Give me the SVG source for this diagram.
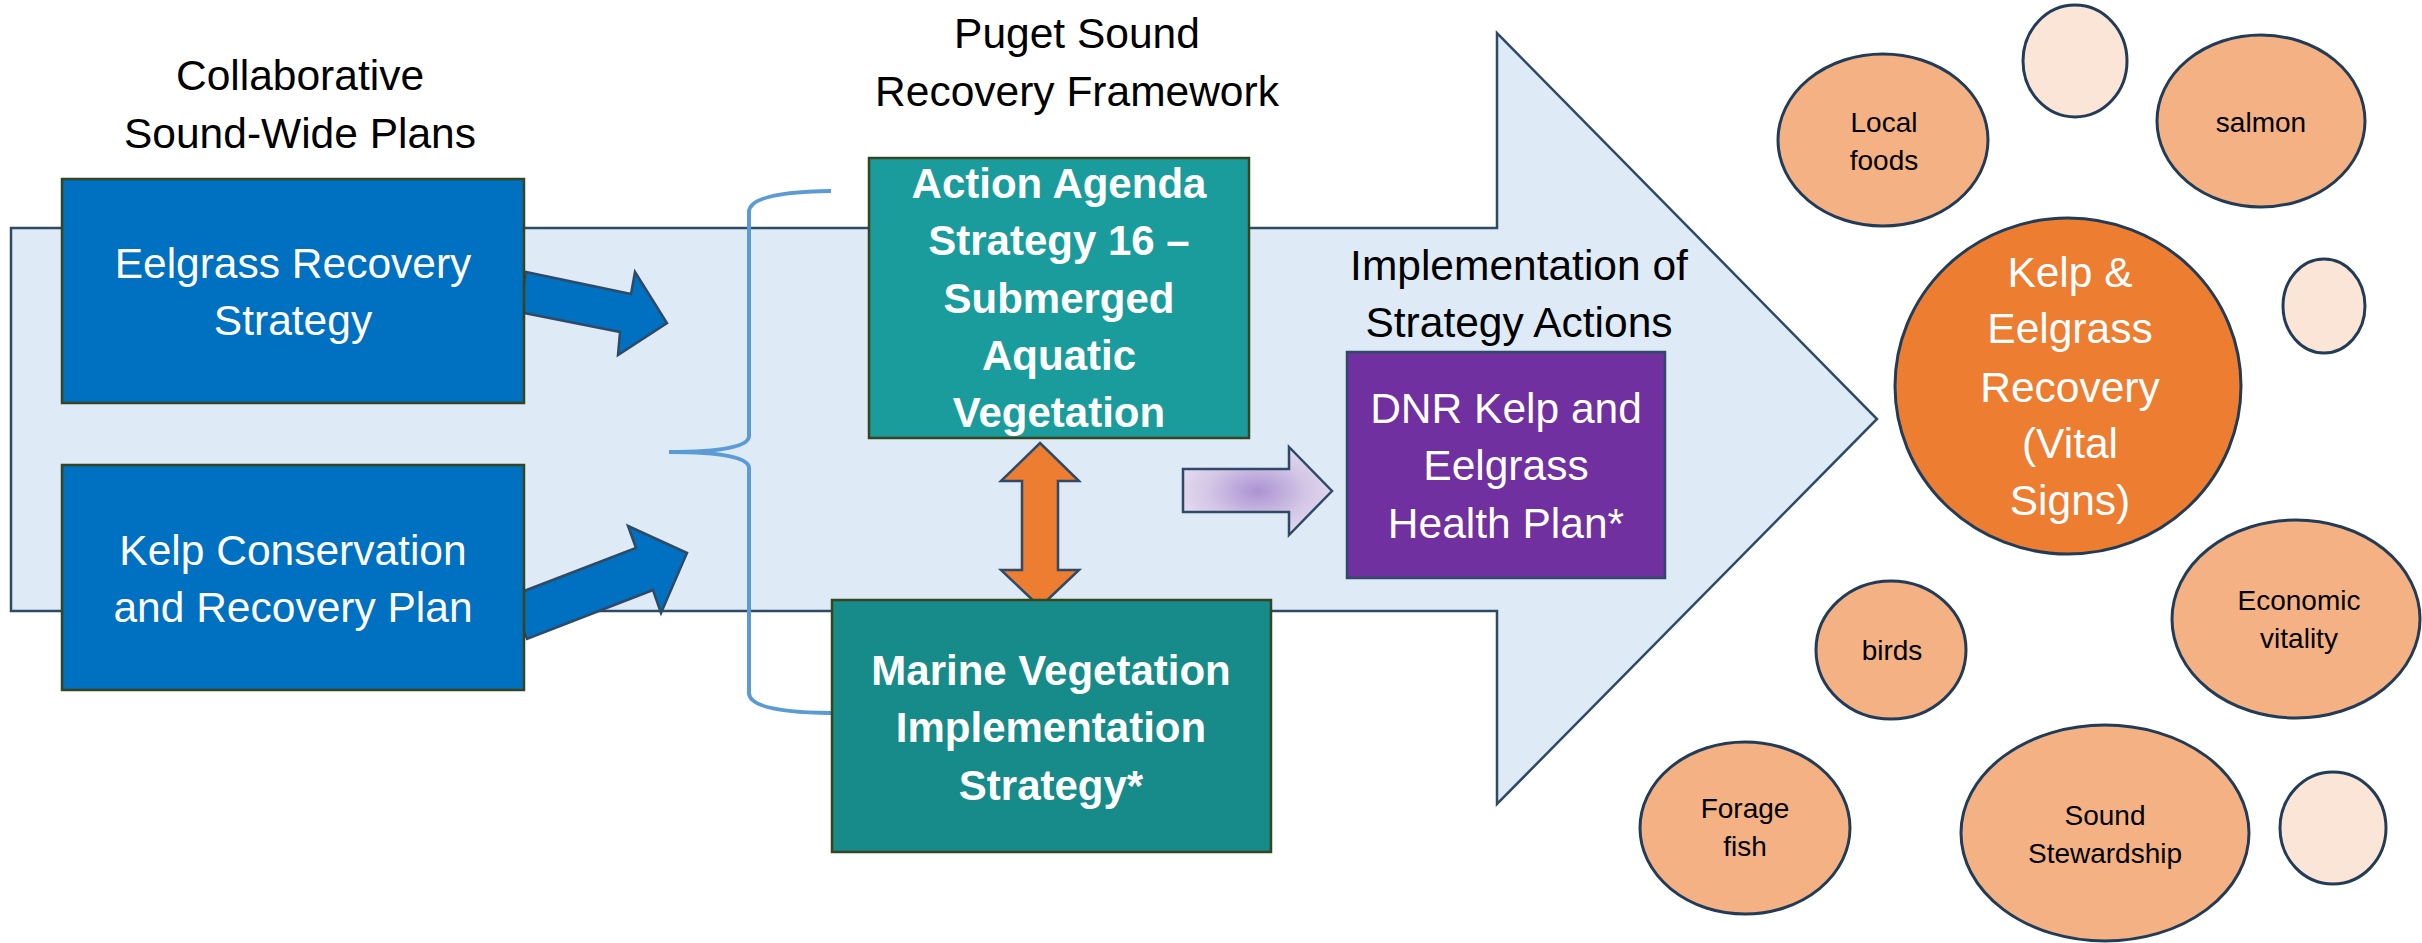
<svg xmlns="http://www.w3.org/2000/svg" width="2422" height="943" viewBox="0 0 2422 943">
<style>
.t{font-family:"Liberation Sans",Arial,sans-serif;font-size:42.5px;text-anchor:middle}
.blk{fill:#000}
.wht{fill:#fff}
.b{font-weight:bold;font-size:42px}
.s{font-family:"Liberation Sans",Arial,sans-serif;font-size:28px;text-anchor:middle;fill:#000}
.ol{stroke:#2E4A66;stroke-width:2.5}
.box{stroke:#34451F;stroke-width:2.5}
.c{fill:#F4B183;stroke:#223C58;stroke-width:3}
.p{fill:#FBE5D6;stroke:#223C58;stroke-width:3}
</style>
<defs>
<radialGradient id="pg" cx="0.5" cy="0.5" r="0.55">
<stop offset="0" stop-color="#AC92D2"/>
<stop offset="0.6" stop-color="#D3C6E6"/>
<stop offset="1" stop-color="#E4DCEF"/>
</radialGradient>
</defs>
<rect width="2422" height="943" fill="#fff"/>
<g id="big-arrow">
<polygon class="ol" fill="#DEEAF6" points="11,228 1497,228 1497,33 1877,419 1497,804 1497,611 11,611"/>
</g>
<g id="titles">
<text class="t blk" x="300" y="90">Collaborative</text>
<text class="t blk" x="300" y="148">Sound-Wide Plans</text>
<text class="t blk" x="1077" y="48">Puget Sound</text>
<text class="t blk" x="1077" y="106">Recovery Framework</text>
<text class="t blk" x="1519" y="280">Implementation of</text>
<text class="t blk" x="1519" y="337">Strategy Actions</text>
</g>
<g id="connectors">
<path d="M831,191 Q749,192 749,212 L749,436 Q749,452 669,452 Q749,452 749,468 L749,693 Q749,712 831,713" fill="none" stroke="#5B9BD5" stroke-width="4"/>
<polygon class="ol" fill="#0070C0" points="526,272 631,294 635,272 667,323 618,355 620,332 519,312"/>
<polygon class="ol" fill="#0070C0" points="511,596 636,548 628,526 687,553 661,613 653,590 527,639"/>
<polygon class="ol" fill="#ED7D31" points="1040,443 1079,481 1058,481 1058,570 1079,570 1040,607 1001,570 1022,570 1022,481 1001,481"/>
<polygon class="ol" fill="url(#pg)" points="1183,469 1289,469 1289,447 1332,491 1289,535 1289,512 1183,512"/>
</g>
<g id="eelgrass-strategy">
<rect class="box" x="62" y="179" width="462" height="224" fill="#0070C0"/>
<text class="t wht" x="293" y="278">Eelgrass Recovery</text>
<text class="t wht" x="293" y="335">Strategy</text>
</g>
<g id="kelp-plan">
<rect class="box" x="62" y="465" width="462" height="225" fill="#0070C0"/>
<text class="t wht" x="293" y="565">Kelp Conservation</text>
<text class="t wht" x="293" y="622">and Recovery Plan</text>
</g>
<g id="action-agenda">
<rect class="box" x="869" y="158" width="380" height="280" fill="#1B9C9C"/>
<text class="t wht b" x="1059" y="198">Action Agenda</text>
<text class="t wht b" x="1059" y="255">Strategy 16 –</text>
<text class="t wht b" x="1059" y="313">Submerged</text>
<text class="t wht b" x="1059" y="370">Aquatic</text>
<text class="t wht b" x="1059" y="427">Vegetation</text>
</g>
<g id="marine-vegetation">
<rect class="box" x="832" y="600" width="439" height="252" fill="#178A8A"/>
<text class="t wht b" x="1051" y="685">Marine Vegetation</text>
<text class="t wht b" x="1051" y="742">Implementation</text>
<text class="t wht b" x="1051" y="800">Strategy*</text>
</g>
<g id="dnr-plan">
<rect class="ol" x="1347" y="352" width="318" height="226" fill="#7030A0"/>
<text class="t wht" x="1506" y="423">DNR Kelp and</text>
<text class="t wht" x="1506" y="480">Eelgrass</text>
<text class="t wht" x="1506" y="538">Health Plan*</text>
</g>
<g id="kelp-eelgrass-recovery">
<ellipse cx="2068" cy="386" rx="173" ry="168" fill="#ED7D31" stroke="#223C58" stroke-width="3"/>
<text class="t wht" x="2070" y="287">Kelp &amp;</text>
<text class="t wht" x="2070" y="343">Eelgrass</text>
<text class="t wht" x="2070" y="402">Recovery</text>
<text class="t wht" x="2070" y="458">(Vital</text>
<text class="t wht" x="2070" y="515">Signs)</text>
</g>
<g id="local-foods">
<ellipse class="c" cx="1883" cy="140" rx="105" ry="86"/>
<text class="s" x="1884" y="132">Local</text>
<text class="s" x="1884" y="170">foods</text>
</g>
<g id="pale-top">
<ellipse class="p" cx="2075" cy="61" rx="52" ry="56"/>
</g>
<g id="salmon">
<ellipse class="c" cx="2261" cy="121" rx="104" ry="86"/>
<text class="s" x="2261" y="132">salmon</text>
</g>
<g id="pale-right">
<ellipse class="p" cx="2324" cy="306" rx="41" ry="47"/>
</g>
<g id="economic-vitality">
<ellipse class="c" cx="2296" cy="619" rx="124" ry="99"/>
<text class="s" x="2299" y="610">Economic</text>
<text class="s" x="2299" y="648">vitality</text>
</g>
<g id="birds">
<ellipse class="c" cx="1891" cy="650" rx="75" ry="69"/>
<text class="s" x="1892" y="660">birds</text>
</g>
<g id="forage-fish">
<ellipse class="c" cx="1745" cy="828" rx="105" ry="86"/>
<text class="s" x="1745" y="818">Forage</text>
<text class="s" x="1745" y="856">fish</text>
</g>
<g id="sound-stewardship">
<ellipse class="c" cx="2105" cy="833" rx="144" ry="108"/>
<text class="s" x="2105" y="825">Sound</text>
<text class="s" x="2105" y="863">Stewardship</text>
</g>
<g id="pale-bottom">
<ellipse class="p" cx="2333" cy="828" rx="53" ry="56"/>
</g>
</svg>
